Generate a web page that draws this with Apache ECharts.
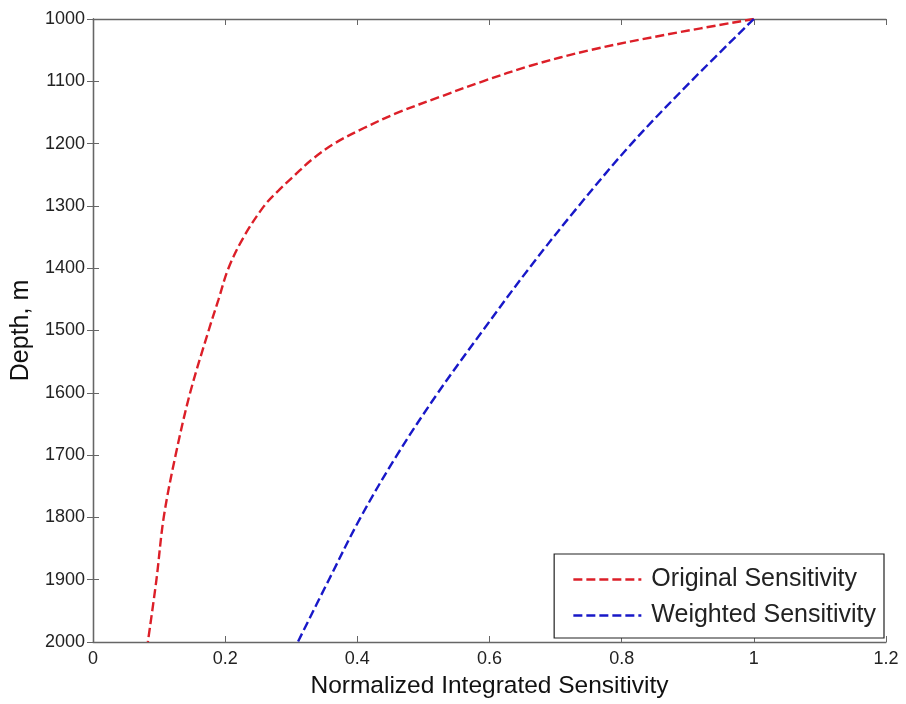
<!DOCTYPE html>
<html>
<head>
<meta charset="utf-8">
<script src="https://cdn.jsdelivr.net/npm/echarts@6/dist/echarts.min.js"></script>
<style>
html,body{margin:0;padding:0;background:#fff;}
#chart{width:906px;height:704px;}
</style>
</head>
<body>
<div id="chart"></div>
<script>
// Data (depth in m, normalized integrated sensitivity)
var redDepths = [1000,1025,1050,1075,1100,1125,1150,1175,1200,1225,1250,1275,1300,1350,1400,1450,1500,1600,1700,1800,1900,2000];
var redValues = [1.0,0.868,0.752,0.662,0.59,0.525,0.462,0.41,0.365,0.332,0.306,0.281,0.259,0.228,0.205,0.19,0.175,0.147,0.125,0.107,0.096,0.083];
var blueDepths = [1000,1100,1200,1300,1400,1500,1600,1700,1800,1900,2000];
var blueValues = [1.0,0.905,0.815,0.735,0.66,0.59,0.522,0.46,0.405,0.357,0.31];
var seriesNames = ['Original Sensitivity','Weighted Sensitivity'];
var xTicks = {min:0, max:1.2, interval:0.2};
var yTicks = {min:1000, max:2000, interval:100};

function pairs(xs, ys){ return ys.map(function(d,i){ return [xs[i], d]; }); }

var FONT = 'Liberation Sans, Arial, sans-serif';
var axisColor = '#666';
var chart = echarts.init(document.getElementById('chart'), null, {renderer:'canvas'});
var commonLine = {show:true, lineStyle:{color:axisColor, width:1.3}};
chart.setOption({
  animation:false,
  backgroundColor:'#fff',
  grid:{left:93, top:19, right:20, bottom:60, containLabel:false},
  legend:{
    data:seriesNames,
    orient:'vertical',
    right:22, bottom:66,
    backgroundColor:'#fff',
    borderColor:'#222', borderWidth:1.2,
    padding:[13,8,10,18],
    itemGap:11,
    itemWidth:68, itemHeight:14,
    itemStyle:{opacity:0, borderWidth:0},
    lineStyle:{width:2.4},
    textStyle:{fontFamily:FONT, fontSize:25, color:'#222', padding:[0,0,0,5]}
  },
  xAxis:[{
    type:'value', min:xTicks.min, max:xTicks.max, interval:xTicks.interval,
    position:'bottom',
    name:'Normalized Integrated Sensitivity', nameLocation:'middle', nameGap:32,
    nameTextStyle:{fontFamily:FONT, fontSize:24.5, color:'#111'},
    axisLine:commonLine,
    axisTick:{show:true, inside:true, length:6, lineStyle:{color:axisColor}},
    axisLabel:{fontFamily:FONT, fontSize:18, color:'#222', margin:8,
      formatter:function(v){return String(v);}},
    splitLine:{show:false}
  },{
    type:'value', min:xTicks.min, max:xTicks.max, interval:xTicks.interval,
    position:'top',
    axisLine:commonLine,
    axisTick:{show:true, inside:true, length:6, lineStyle:{color:axisColor}},
    axisLabel:{show:false}, splitLine:{show:false}
  }],
  yAxis:[{
    type:'value', inverse:true, min:yTicks.min, max:yTicks.max, interval:yTicks.interval,
    position:'left',
    name:'Depth, m', nameLocation:'middle', nameGap:57, nameRotate:90,
    nameTextStyle:{fontFamily:FONT, fontSize:25, color:'#111'},
    axisLine:commonLine,
    axisTick:{show:true, inside:true, length:6, lineStyle:{color:axisColor}},
    axisLabel:{fontFamily:FONT, fontSize:18, color:'#222', margin:8,
      formatter:function(v){return String(v);}},
    splitLine:{show:false}
  },{
    type:'value', inverse:true, min:yTicks.min, max:yTicks.max, interval:yTicks.interval,
    position:'right',
    axisLine:commonLine,
    axisTick:{show:true, inside:true, length:6, lineStyle:{color:axisColor}},
    axisLabel:{show:false}, splitLine:{show:false}
  }],
  series:[{
    name:seriesNames[0], type:'line', smooth:0.35, symbol:'none',
    xAxisIndex:0, yAxisIndex:0,
    data:pairs(redValues, redDepths),
    lineStyle:{color:'#dc1f28', width:2.4, type:[9,4]},
    itemStyle:{color:'#dc1f28'}
  },{
    name:seriesNames[1], type:'line', smooth:0.35, symbol:'none',
    xAxisIndex:0, yAxisIndex:0,
    data:pairs(blueValues, blueDepths),
    lineStyle:{color:'#1818c8', width:2.4, type:[9,4]},
    itemStyle:{color:'#1818c8'}
  }]
});
</script>
</body>
</html>
